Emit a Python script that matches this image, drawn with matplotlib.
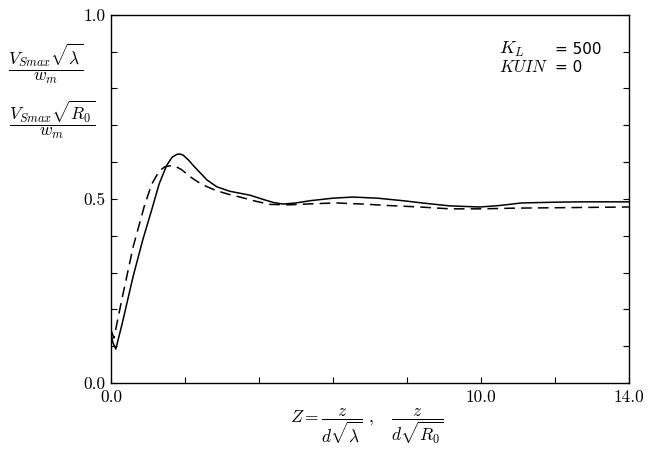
import matplotlib
matplotlib.use("Agg")
import matplotlib.pyplot as plt
import numpy as np

plt.rcParams["mathtext.fontset"] = "cm"
plt.rcParams["font.family"] = ["DejaVu Serif"]

# solid curve (sqrt(lambda) scaling)
z_solid = [0.0, 0.05, 0.13, 0.3, 0.6, 0.86, 1.1, 1.3, 1.5, 1.65, 1.78, 1.86, 1.95, 2.1, 2.25, 2.4, 2.6,
           2.86, 3.2, 3.76, 4.1, 4.4, 4.65, 5.0, 5.38, 6.0, 6.54, 7.2, 7.9, 8.5, 9.16, 9.97, 10.5, 11.1,
           12.0, 12.7, 13.4, 14.0]
v_solid = [0.135, 0.11, 0.092, 0.16, 0.29, 0.389, 0.47, 0.54, 0.59, 0.613, 0.621, 0.622, 0.619, 0.605, 0.588,
           0.572, 0.551, 0.533, 0.521, 0.51, 0.499, 0.49, 0.486, 0.489, 0.495, 0.502, 0.505, 0.502, 0.495,
           0.488, 0.481, 0.478, 0.482, 0.489, 0.491, 0.492, 0.492, 0.492]

# dashed curve (sqrt(R0) scaling)
z_dash = [0.0, 0.08, 0.3, 0.6, 0.9, 1.1, 1.3, 1.45, 1.6, 1.75, 1.9, 2.05, 2.2, 2.4, 2.6, 2.86, 3.2, 3.49,
          3.9, 4.3, 4.84, 5.5, 6.1, 6.8, 7.5, 8.35, 9.16, 9.97, 11.0, 12.0, 13.0, 14.0]
v_dash = [0.144, 0.122, 0.23, 0.37, 0.48, 0.54, 0.575, 0.587, 0.59, 0.588, 0.58, 0.568, 0.556, 0.543, 0.533,
          0.522, 0.512, 0.505, 0.494, 0.485, 0.484, 0.487, 0.489, 0.486, 0.482, 0.478, 0.473, 0.473, 0.475,
          0.476, 0.477, 0.478]

x_labels = {0.0: "0.0", 10.0: "10.0", 14.0: "14.0"}
y_labels = {0.0: "0.0", 0.5: "0.5", 1.0: "1.0"}

fig = plt.figure(figsize=(6.49, 4.5), dpi=100)
ax = fig.add_axes([0.171, 0.149, 0.798, 0.818])

ax.plot(z_solid, v_solid, color="black", linewidth=1.1)
ax.plot(z_dash, v_dash, color="black", linewidth=1.1, dashes=(7, 4))

ax.set_xlim(0, 14)
ax.set_ylim(0, 1)

xt = np.arange(0, 14.01, 2)
yt = np.arange(0, 1.001, 0.1)
ax.set_xticks(xt)
ax.set_yticks(yt)
ax.set_xticklabels([x_labels.get(round(v, 1), "") for v in xt], family="cmr10")
ax.set_yticklabels([y_labels.get(round(v, 1), "") for v in yt], family="cmr10")
ax.tick_params(direction="in", length=4, width=0.8, labelsize=12.5, right=True, pad=4)
ax.tick_params(axis="x", pad=5)
for s in ax.spines.values():
    s.set_linewidth(1.0)

ax.text(0.749, 0.905, r"$K_L$", transform=ax.transAxes, fontsize=13, va="center")
ax.text(0.857, 0.905, "= 500", transform=ax.transAxes, fontsize=11, family="DejaVu Sans", va="center")
ax.text(0.749, 0.856, r"$KUIN$", transform=ax.transAxes, fontsize=12, va="center")
ax.text(0.857, 0.856, "= 0", transform=ax.transAxes, fontsize=11, family="DejaVu Sans", va="center")

fig.text(0.071, 0.858, r"$\dfrac{V_{Smax}\sqrt{\lambda}}{w_m}$", fontsize=12.5, ha="center", va="center")
fig.text(0.080, 0.733, r"$\dfrac{V_{Smax}\sqrt{R_0}}{w_m}$", fontsize=12.5, ha="center", va="center")

fig.text(0.566, 0.053, r"$Z = \dfrac{z}{d\sqrt{\lambda}}\ ,\quad \dfrac{z}{d\sqrt{R_0}}$",
         fontsize=12.5, ha="center", va="center")

fig.savefig("out.png", dpi=100)
